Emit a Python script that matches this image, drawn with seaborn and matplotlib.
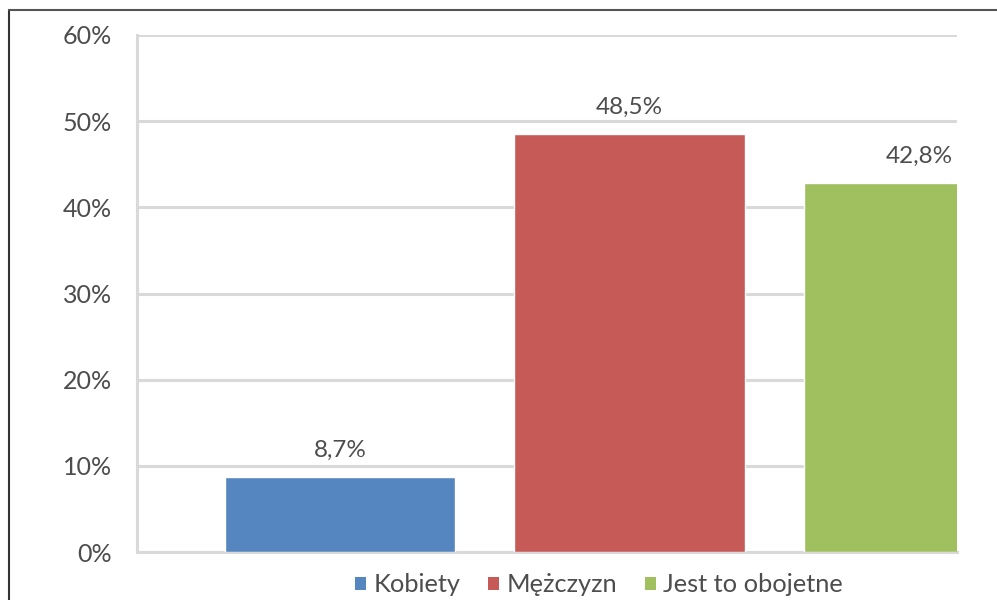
import matplotlib
matplotlib.use("Agg")
import matplotlib.pyplot as plt
from matplotlib.lines import Line2D
from matplotlib.patches import Patch
import seaborn as sns
import pandas as pd

categories = ["Kobiety", "Mężczyzn", "Jest to obojetne"]
values = [8.7, 48.5, 42.8]
value_labels = ["8,7%", "48,5%", "42,8%"]
colors = ["#5586C0", "#C55A57", "#A0BF5E"]
y_ticks = [0, 10, 20, 30, 40, 50, 60]
y_tick_labels = ["0%", "10%", "20%", "30%", "40%", "50%", "60%"]

sns.set_theme(style="white")
plt.rcParams["font.family"] = ["Lato", "DejaVu Sans"]

W, H = 997, 600
fig = plt.figure(figsize=(W / 100, H / 100), dpi=100)
ax = fig.add_axes([137 / W, (H - 552) / H, 820 / W, 517 / H])

df = pd.DataFrame({"cat": categories, "val": values})
sns.barplot(data=df, x="cat", y="val", hue="cat", palette=colors,
            width=0.795, saturation=1, legend=False, ax=ax, zorder=3)

ax.set_xlim(-0.701, 2.131)
ax.set_ylim(0, 60)
ax.set_yticks(y_ticks)
ax.set_yticklabels(y_tick_labels)
ax.set_xticks([])
ax.set_xlabel("")
ax.set_ylabel("")
ax.tick_params(axis="y", length=0, pad=18, labelsize=18, labelcolor="#4D4D4D")

ax.grid(axis="y", color="#D9D9D9", linewidth=2.2, zorder=0)
for side in ["top", "right"]:
    ax.spines[side].set_visible(False)
for side in ["left", "bottom"]:
    ax.spines[side].set_color("#D9D9D9")
    ax.spines[side].set_linewidth(2.2)

for i, (v, lab) in enumerate(zip(values, value_labels)):
    ax.text(i, v + 1.9, lab, ha="center", va="bottom", fontsize=17.5,
            color="#4D4D4D", clip_on=True, zorder=4)

handles = [Patch(facecolor=c, edgecolor="none") for c in colors]
fig.legend(handles, categories, loc="center", bbox_to_anchor=(599 / W, (H - 585) / H),
           ncol=3, frameon=False, fontsize=18.3, handlelength=0.42, handleheight=0.42,
           handletextpad=0.3, columnspacing=1.1, labelcolor="#4D4D4D")

# frame lines around the figure
fig.add_artist(Line2D([9 / W, 9 / W], [0, (H - 10) / H], color="#333333", linewidth=1.5))
fig.add_artist(Line2D([9 / W, 1], [(H - 10) / H, (H - 10) / H], color="#555555", linewidth=1.5))

fig.savefig("out.png", dpi=100)
